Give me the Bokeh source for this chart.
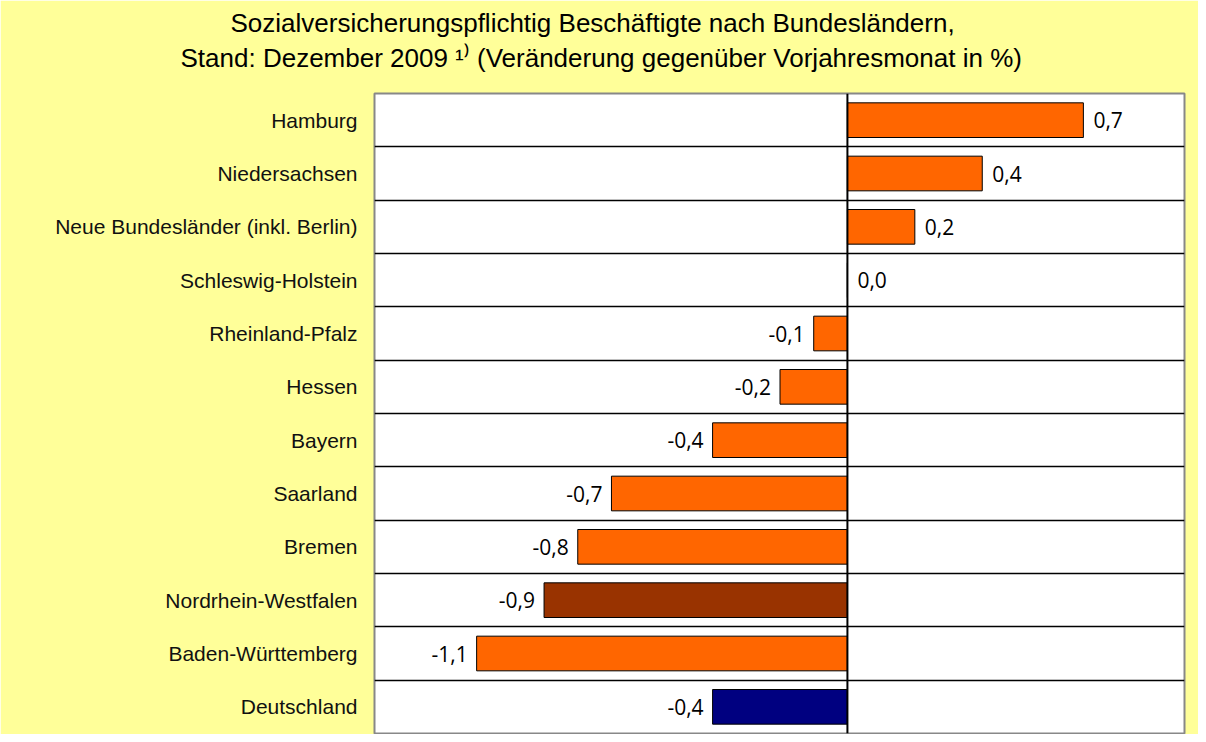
from bokeh.plotting import figure
from bokeh.models import Range1d, FixedTicker, Span, Title, ColumnDataSource
from bokeh.core.properties import value
from bokeh.embed import file_html
from bokeh.resources import INLINE

categories = ["Hamburg", "Niedersachsen", "Neue Bundesländer (inkl. Berlin)",
              "Schleswig-Holstein", "Rheinland-Pfalz", "Hessen", "Bayern",
              "Saarland", "Bremen", "Nordrhein-Westfalen", "Baden-Württemberg",
              "Deutschland"]
values = [0.7, 0.4, 0.2, 0.0, -0.1, -0.2, -0.4, -0.7, -0.8, -0.9, -1.1, -0.4]
bar_colors = ["#FF6600"] * 9 + ["#993300", "#FF6600", "#000080"]

title_line1 = "Sozialversicherungspflichtig Beschäftigte nach Bundesländern,"
title_line2 = "Stand: Dezember 2009 \u00b9\u207e (Veränderung gegenüber Vorjahresmonat in %)"

n = len(categories)
ypos = [n - 1 - i for i in range(n)]
labels = [f"{v:.1f}".replace(".", ",") for v in values]
aligns = ["left" if v >= 0 else "right" for v in values]
offsets = [10 if v >= 0 else -9 for v in values]

src = ColumnDataSource(dict(y=ypos, v=values, c=bar_colors, t=labels, a=aligns, o=offsets))

p = figure(width=1198, height=734, output_backend="svg", toolbar_location=None,
           x_range=Range1d(-1.403, 1.0), y_range=Range1d(-0.5, n - 0.5),
           title=None, min_border_left=374, min_border_right=14,
           min_border_top=93, min_border_bottom=1)

p.border_fill_color = "#FFFF99"
p.background_fill_color = "white"
p.outline_line_color = "#888888"
p.outline_line_width = 2

p.xaxis.visible = False
p.xgrid.visible = False

p.yaxis.ticker = FixedTicker(ticks=ypos)
p.yaxis.major_label_overrides = {y: c for y, c in zip(ypos, categories)}
p.yaxis.axis_line_color = None
p.yaxis.major_tick_line_color = None
p.yaxis.minor_tick_line_color = None
p.yaxis.major_tick_out = 0
p.yaxis.major_tick_in = 0
p.yaxis.major_label_standoff = 17
p.yaxis.major_label_text_font = "Liberation Sans"
p.yaxis.major_label_text_font_size = "21px"
p.yaxis.major_label_text_color = "#111111"

p.ygrid.ticker = FixedTicker(ticks=[y + 0.5 for y in range(n)])
p.ygrid.grid_line_color = "black"
p.ygrid.grid_line_width = 1.5

p.hbar(y="y", left=0, right="v", height=0.65, fill_color="c", line_color="black",
       line_width=1, source=src)

p.add_layout(Span(location=0, dimension="height", line_color="black", line_width=2))

p.text(x="v", y="y", text="t", text_align="a", x_offset="o", text_baseline="middle",
       text_font=value("Open Sans"), text_font_size="21px", text_color="black", source=src)

spacer = Title(text=" ", text_font_size="10px", standoff=6)
t2 = Title(text=title_line2, align="left", offset=-194, text_font="Liberation Sans",
           text_font_size="26px", text_font_style="normal", text_color="black", standoff=3)
t1 = Title(text=title_line1, align="left", offset=-144, text_font="Liberation Sans",
           text_font_size="26px", text_font_style="normal", text_color="black", standoff=3)
p.add_layout(spacer, "above")
p.add_layout(t2, "above")
p.add_layout(t1, "above")

open("out.html", "w").write(file_html(p, INLINE))
